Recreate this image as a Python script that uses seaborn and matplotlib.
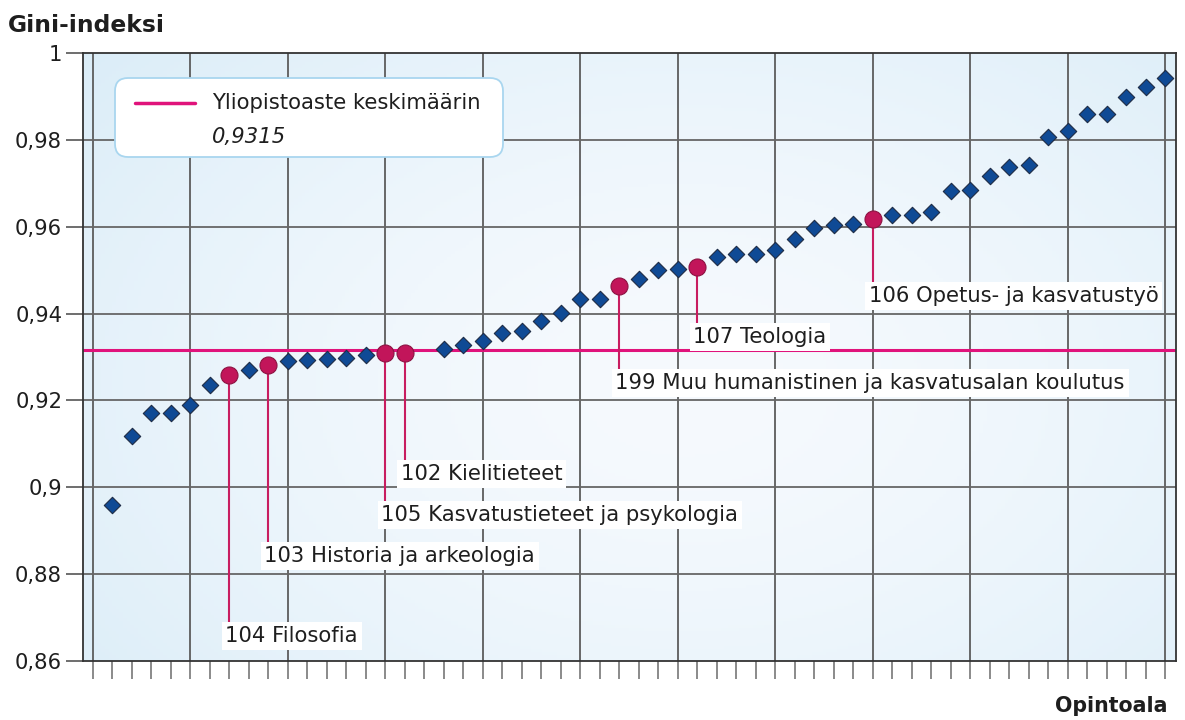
import numpy as np
import pandas as pd
import matplotlib
matplotlib.use("Agg")
import matplotlib.pyplot as plt
from matplotlib.patches import FancyBboxPatch
from matplotlib.lines import Line2D
import seaborn as sns

# opintoalat järjestyksessä (paikka 0 ja 17 tyhjiä)
positions = list(range(1, 56))
gini = [0.8960, 0.9118, 0.9171, 0.9171, 0.9189, 0.9236, 0.9259, 0.9270, 0.9282, 0.9291,
        0.9293, 0.9295, 0.9298, 0.9305, 0.9309, 0.9309, np.nan, 0.9318, 0.9328, 0.9337,
        0.9355, 0.9360, 0.9383, 0.9401, 0.9434, 0.9434, 0.9463, 0.9480, 0.9500, 0.9503,
        0.9507, 0.9530, 0.9537, 0.9537, 0.9546, 0.9572, 0.9597, 0.9604, 0.9606, 0.9618,
        0.9627, 0.9627, 0.9634, 0.9682, 0.9685, 0.9717, 0.9737, 0.9742, 0.9807, 0.9820,
        0.9860, 0.9860, 0.9899, 0.9922, 0.9942]

# korostetut alat
hl_pos = [7, 9, 15, 16, 27, 31, 40]
hl_names = ["104 Filosofia", "103 Historia ja arkeologia", "105 Kasvatustieteet ja psykologia",
            "102 Kielitieteet", "199 Muu humanistinen ja kasvatusalan koulutus",
            "107 Teologia", "106 Opetus- ja kasvatustyö"]
# tekstien korkeus (y)
hl_label_y = [0.8658, 0.8842, 0.8936, 0.9031, 0.9240, 0.9346, 0.9440]

keskiarvo = 0.9315
yticks = [0.86, 0.88, 0.90, 0.92, 0.94, 0.96, 0.98, 1.00]
ytick_labels = ["0,86", "0,88", "0,9", "0,92", "0,94", "0,96", "0,98", "1"]

df = pd.DataFrame({"pos": positions, "gini": gini})
hl = df[df["pos"].isin(hl_pos)]
rest = df[~df["pos"].isin(hl_pos)].dropna()

sns.set_style("white")
plt.rcParams["font.family"] = ["DejaVu Sans"]

fig = plt.figure(figsize=(11.85, 7.2), dpi=100)
ax = fig.add_axes([83 / 1185, 59 / 720, 1093 / 1185, 608 / 720])

# taustan liukuväri
gx, gy = np.meshgrid(np.linspace(0, 1, 300), np.linspace(0, 1, 200))
d = np.sqrt(((gx - 0.55) / 0.75) ** 2 + ((gy - 0.45) / 0.9) ** 2)
d = np.clip(d, 0, 1)
c0 = np.array([0.965, 0.98, 0.995])
c1 = np.array([0.85, 0.925, 0.97])
img = c0[None, None, :] * (1 - d[..., None] ** 1.6) + c1[None, None, :] * d[..., None] ** 1.6
ax.imshow(img, extent=[0, 1, 0, 1], transform=ax.transAxes, aspect="auto", zorder=0, origin="lower")

ax.set_xlim(-0.5, 55.55)
ax.set_ylim(0.86, 1.0)

for x in range(0, 56, 5):
    ax.axvline(x, color="#5c5c5c", lw=1.3, zorder=1)
for y in yticks[1:-1]:
    ax.axhline(y, color="#666666", lw=1.3, zorder=1)

ax.axhline(keskiarvo, color="#e0137b", lw=2.2, zorder=2)

for p, name, ly in zip(hl_pos, hl_names, hl_label_y):
    v = df.loc[df["pos"] == p, "gini"].values[0]
    ax.plot([p, p], [v, ly], color="#c81d60", lw=1.5, zorder=3)
    ax.text(p - 0.2, ly, name, ha="left", va="center", fontsize=15.2, color="#1e1e1e", zorder=4,
            bbox=dict(boxstyle="square,pad=0.18", facecolor="white", edgecolor="none"))

sns.scatterplot(data=rest, x="pos", y="gini", marker="D", s=70, color="#0f4a95",
                edgecolor="#1d2b45", linewidth=0.8, zorder=5, ax=ax)
sns.scatterplot(data=hl, x="pos", y="gini", marker="o", s=150, color="#c2155a",
                edgecolor="#8c1242", linewidth=0.8, zorder=5, ax=ax)

ax.set_xticks(range(56))
ax.set_xticklabels([])
ax.tick_params(axis="x", bottom=True, direction="out", length=13, width=1.2, color="#777777")
ax.set_yticks(yticks)
ax.set_yticklabels(ytick_labels, fontsize=15.2, color="#1e1e1e")
ax.tick_params(axis="y", left=True, direction="out", length=12, width=1.2, color="#555555", pad=3)
ax.set_xlabel("")
ax.set_ylabel("")
for s in ax.spines.values():
    s.set_color("#333333")
    s.set_linewidth(1.3)
    s.set_zorder(6)

# selite
box = FancyBboxPatch((1.15, (720 - 157) / 100), 3.88, 0.79,
                     boxstyle="round,pad=0,rounding_size=0.13",
                     transform=fig.dpi_scale_trans, facecolor="white",
                     edgecolor="#a9d6ef", lw=1.3, zorder=7)
fig.add_artist(box)
fig.add_artist(Line2D([1.35, 1.95], [(720 - 103) / 100] * 2, color="#e0137b", lw=2.5,
                      transform=fig.dpi_scale_trans, zorder=8))
fig.text(212 / 1185, 1 - 103 / 720, "Yliopistoaste keskimäärin", fontsize=15.2,
         color="#1e1e1e", va="center", ha="left", zorder=8)
fig.text(212 / 1185, 1 - 137 / 720, "0,9315", fontsize=15.2, style="italic",
         color="#1e1e1e", va="center", ha="left", zorder=8)

fig.text(8 / 1185, 1 - 25 / 720, "Gini-indeksi", fontsize=16.8, fontweight="bold",
         color="#1e1e1e", va="center", ha="left")
fig.text(1168 / 1185, 1 - 706 / 720, "Opintoala", fontsize=14.8, fontweight="bold",
         color="#1e1e1e", va="center", ha="right")

fig.savefig("out.png", dpi=100)
